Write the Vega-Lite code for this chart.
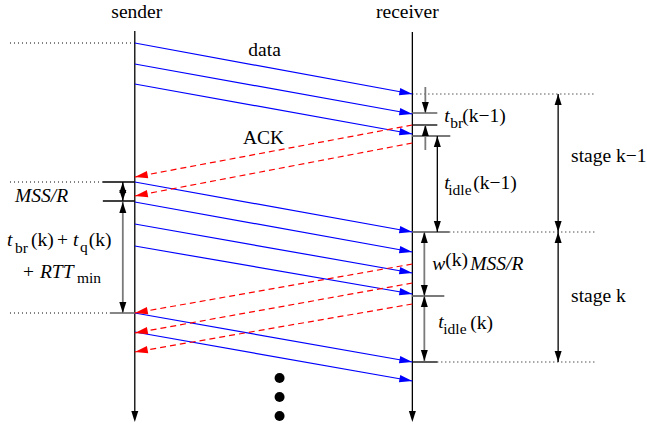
{
  "$schema": "https://vega.github.io/schema/vega-lite/v6.json",
  "width": 647,
  "height": 426,
  "padding": 0,
  "autosize": {"type": "fit", "contains": "padding"},
  "background": "white",
  "config": {"view": {"stroke": null}},
  "datasets": {
    "timelines": [{"xa": 135, "ta": 31, "tb": 414}, {"xa": 413, "ta": 32, "tb": 414}],
    "dotted": [
      {"xa": 10, "xb": 135, "ta": 43}, {"xa": 10, "xb": 103, "ta": 182}, {"xa": 10, "xb": 110, "ta": 313},
      {"xa": 413, "xb": 597, "ta": 94}, {"xa": 450, "xb": 597, "ta": 232}, {"xa": 438, "xb": 597, "ta": 362}
    ],
    "ticksBlack": [
      {"xa": 103, "xb": 135, "ta": 182}, {"xa": 103, "xb": 135, "ta": 201},
      {"xa": 413, "xb": 438, "ta": 125}, {"xa": 413, "xb": 438, "ta": 362}
    ],
    "ticksGray": [
      {"xa": 110, "xb": 135, "ta": 313}, {"xa": 413, "xb": 438, "ta": 113}, {"xa": 413, "xb": 451, "ta": 136},
      {"xa": 413, "xb": 450, "ta": 232}, {"xa": 413, "xb": 445, "ta": 296}
    ],
    "shaftsGray": [
      {"xa": 426, "ta": 87, "tb": 113}, {"xa": 426, "ta": 125, "tb": 150},
      {"xa": 123, "ta": 202, "tb": 313}, {"xa": 425, "ta": 232, "tb": 296}, {"xa": 425, "ta": 296, "tb": 361}
    ],
    "shaftsBlack": [
      {"xa": 123, "ta": 182, "tb": 201}, {"xa": 438, "ta": 136, "tb": 232},
      {"xa": 559, "ta": 94, "tb": 232}, {"xa": 559, "ta": 232, "tb": 362}
    ],
    "dataPkts": [
      {"ta": 43, "tb": 94}, {"ta": 64, "tb": 114}, {"ta": 84, "tb": 134},
      {"ta": 182, "tb": 232}, {"ta": 202, "tb": 252}, {"ta": 224, "tb": 273}, {"ta": 246, "tb": 294},
      {"ta": 313, "tb": 362}, {"ta": 332, "tb": 381}
    ],
    "acks": [
      {"ta": 125, "tb": 177}, {"ta": 143, "tb": 196},
      {"ta": 264, "tb": 313}, {"ta": 283, "tb": 333}, {"ta": 304, "tb": 352}
    ],
    "headsDown": [
      {"xa": 426, "ta": 113}, {"xa": 123, "ta": 201}, {"xa": 123, "ta": 313}, {"xa": 425, "ta": 296},
      {"xa": 425, "ta": 361}, {"xa": 438, "ta": 232}, {"xa": 559, "ta": 232}, {"xa": 559, "ta": 362},
      {"xa": 135, "ta": 422}, {"xa": 413, "ta": 422}
    ],
    "headsUp": [
      {"xa": 426, "ta": 125}, {"xa": 123, "ta": 182}, {"xa": 123, "ta": 202}, {"xa": 425, "ta": 232},
      {"xa": 425, "ta": 296}, {"xa": 438, "ta": 136}, {"xa": 559, "ta": 94}, {"xa": 559, "ta": 232}
    ],
    "dots": [{"xa": 280, "ta": 378}, {"xa": 280, "ta": 397}, {"xa": 280, "ta": 416}],
    "textCenter": [
      {"xa": 137, "ta": 18, "label": "sender"}, {"xa": 408, "ta": 18, "label": "receiver"},
      {"xa": 265, "ta": 56, "label": "data"}, {"xa": 264, "ta": 144, "label": "ACK"}
    ],
    "textRoman": [
      {"xa": 572, "ta": 162, "label": "stage k−1"}, {"xa": 572, "ta": 302, "label": "stage k"},
      {"xa": 463, "ta": 122, "label": "(k−1)"}, {"xa": 474, "ta": 189, "label": "(k−1)"},
      {"xa": 446, "ta": 266, "label": "(k)"}, {"xa": 471, "ta": 329, "label": "(k)"},
      {"xa": 31, "ta": 246, "label": "(k)"}, {"xa": 57, "ta": 246, "label": "+"},
      {"xa": 89, "ta": 246, "label": "(k)"}, {"xa": 23, "ta": 278, "label": "+"}
    ],
    "textItalic": [
      {"xa": 445, "ta": 122, "label": "t"}, {"xa": 445, "ta": 189, "label": "t"},
      {"xa": 433, "ta": 270, "label": "w"}, {"xa": 471, "ta": 270, "label": "MSS/R"},
      {"xa": 439, "ta": 328, "label": "t"}, {"xa": 15, "ta": 202, "label": "MSS/R"},
      {"xa": 7, "ta": 246, "label": "t"}, {"xa": 73, "ta": 246, "label": "t"},
      {"xa": 40, "ta": 278, "label": "RTT"}
    ],
    "textSub": [
      {"xa": 451, "ta": 128, "label": "br"}, {"xa": 449, "ta": 195, "label": "idle"},
      {"xa": 444, "ta": 334, "label": "idle"}, {"xa": 15, "ta": 253, "label": "br"},
      {"xa": 80, "ta": 252, "label": "q"}, {"xa": 77, "ta": 283, "label": "min"}
    ]
  },
  "layer": [
    {
      "data": {"name": "timelines"},
      "mark": {"type": "rule", "color": "black", "strokeWidth": 1.3},
      "encoding": {
        "x": {"field": "xa", "type": "quantitative", "scale": {"domain": [0, 647], "nice": false, "zero": false}, "axis": null},
        "y": {"field": "ta", "type": "quantitative", "scale": {"domain": [0, 426], "nice": false, "zero": false, "reverse": true}, "axis": null},
        "y2": {"field": "tb"}
      }
    },
    {
      "data": {"name": "dotted"},
      "mark": {"type": "rule", "color": "black", "strokeWidth": 1, "strokeDash": [1, 3]},
      "encoding": {
        "x": {"field": "xa", "type": "quantitative", "axis": null},
        "x2": {"field": "xb"},
        "y": {"field": "ta", "type": "quantitative", "axis": null}
      }
    },
    {
      "data": {"name": "ticksBlack"},
      "mark": {"type": "rule", "color": "black", "strokeWidth": 1.3},
      "encoding": {
        "x": {"field": "xa", "type": "quantitative", "axis": null},
        "x2": {"field": "xb"},
        "y": {"field": "ta", "type": "quantitative", "axis": null}
      }
    },
    {
      "data": {"name": "ticksGray"},
      "mark": {"type": "rule", "color": "#7a7a7a", "strokeWidth": 1.8},
      "encoding": {
        "x": {"field": "xa", "type": "quantitative", "axis": null},
        "x2": {"field": "xb"},
        "y": {"field": "ta", "type": "quantitative", "axis": null}
      }
    },
    {
      "data": {"name": "shaftsGray"},
      "mark": {"type": "rule", "color": "#7a7a7a", "strokeWidth": 1.8},
      "encoding": {
        "x": {"field": "xa", "type": "quantitative", "axis": null},
        "y": {"field": "ta", "type": "quantitative", "axis": null},
        "y2": {"field": "tb"}
      }
    },
    {
      "data": {"name": "shaftsBlack"},
      "mark": {"type": "rule", "color": "black", "strokeWidth": 1.3},
      "encoding": {
        "x": {"field": "xa", "type": "quantitative", "axis": null},
        "y": {"field": "ta", "type": "quantitative", "axis": null},
        "y2": {"field": "tb"}
      }
    },
    {
      "data": {"name": "dataPkts"},
      "layer": [
        {
          "mark": {"type": "rule", "color": "#0000ff", "strokeWidth": 1.2},
          "encoding": {
            "x": {"datum": 135, "type": "quantitative", "axis": null},
            "x2": {"datum": 413},
            "y": {"field": "ta", "type": "quantitative", "axis": null},
            "y2": {"field": "tb"}
          }
        },
        {
          "mark": {"type": "point", "shape": "M0,0L-2.6,-0.75L-2.6,0.75Z", "filled": true, "opacity": 1, "color": "#0000ff", "size": 100, "angle": 10.3, "strokeWidth": 0},
          "encoding": {
            "x": {"datum": 413, "type": "quantitative", "axis": null},
            "y": {"field": "tb", "type": "quantitative", "axis": null}
          }
        }
      ]
    },
    {
      "data": {"name": "acks"},
      "layer": [
        {
          "mark": {"type": "rule", "color": "#ff0000", "strokeWidth": 1.2, "strokeDash": [6, 4]},
          "encoding": {
            "x": {"datum": 413, "type": "quantitative", "axis": null},
            "x2": {"datum": 135},
            "y": {"field": "ta", "type": "quantitative", "axis": null},
            "y2": {"field": "tb"}
          }
        },
        {
          "mark": {"type": "point", "shape": "M0,0L2.6,-0.75L2.6,0.75Z", "filled": true, "opacity": 1, "color": "#ff0000", "size": 100, "angle": -10.3, "strokeWidth": 0},
          "encoding": {
            "x": {"datum": 135, "type": "quantitative", "axis": null},
            "y": {"field": "tb", "type": "quantitative", "axis": null}
          }
        }
      ]
    },
    {
      "data": {"name": "headsDown"},
      "mark": {"type": "point", "shape": "M0,0L-0.7,-2.2L0.7,-2.2Z", "filled": true, "opacity": 1, "color": "black", "size": 100, "strokeWidth": 0},
      "encoding": {
        "x": {"field": "xa", "type": "quantitative", "axis": null},
        "y": {"field": "ta", "type": "quantitative", "axis": null}
      }
    },
    {
      "data": {"name": "headsUp"},
      "mark": {"type": "point", "shape": "M0,0L-0.7,2.2L0.7,2.2Z", "filled": true, "opacity": 1, "color": "black", "size": 100, "strokeWidth": 0},
      "encoding": {
        "x": {"field": "xa", "type": "quantitative", "axis": null},
        "y": {"field": "ta", "type": "quantitative", "axis": null}
      }
    },
    {
      "data": {"name": "dots"},
      "mark": {"type": "point", "shape": "circle", "filled": true, "opacity": 1, "color": "black", "size": 100},
      "encoding": {
        "x": {"field": "xa", "type": "quantitative", "axis": null},
        "y": {"field": "ta", "type": "quantitative", "axis": null}
      }
    },
    {
      "data": {"name": "textCenter"},
      "mark": {"type": "text", "font": "Liberation Serif", "fontSize": 19.5, "align": "center", "baseline": "alphabetic", "color": "black"},
      "encoding": {
        "x": {"field": "xa", "type": "quantitative", "axis": null},
        "y": {"field": "ta", "type": "quantitative", "axis": null},
        "text": {"field": "label"}
      }
    },
    {
      "data": {"name": "textRoman"},
      "mark": {"type": "text", "font": "Liberation Serif", "fontSize": 19.5, "align": "left", "baseline": "alphabetic", "color": "black"},
      "encoding": {
        "x": {"field": "xa", "type": "quantitative", "axis": null},
        "y": {"field": "ta", "type": "quantitative", "axis": null},
        "text": {"field": "label"}
      }
    },
    {
      "data": {"name": "textItalic"},
      "mark": {"type": "text", "font": "Liberation Serif", "fontSize": 19.5, "fontStyle": "italic", "align": "left", "baseline": "alphabetic", "color": "black"},
      "encoding": {
        "x": {"field": "xa", "type": "quantitative", "axis": null},
        "y": {"field": "ta", "type": "quantitative", "axis": null},
        "text": {"field": "label"}
      }
    },
    {
      "data": {"name": "textSub"},
      "mark": {"type": "text", "font": "Liberation Serif", "fontSize": 15.5, "align": "left", "baseline": "alphabetic", "color": "black"},
      "encoding": {
        "x": {"field": "xa", "type": "quantitative", "axis": null},
        "y": {"field": "ta", "type": "quantitative", "axis": null},
        "text": {"field": "label"}
      }
    }
  ]
}
